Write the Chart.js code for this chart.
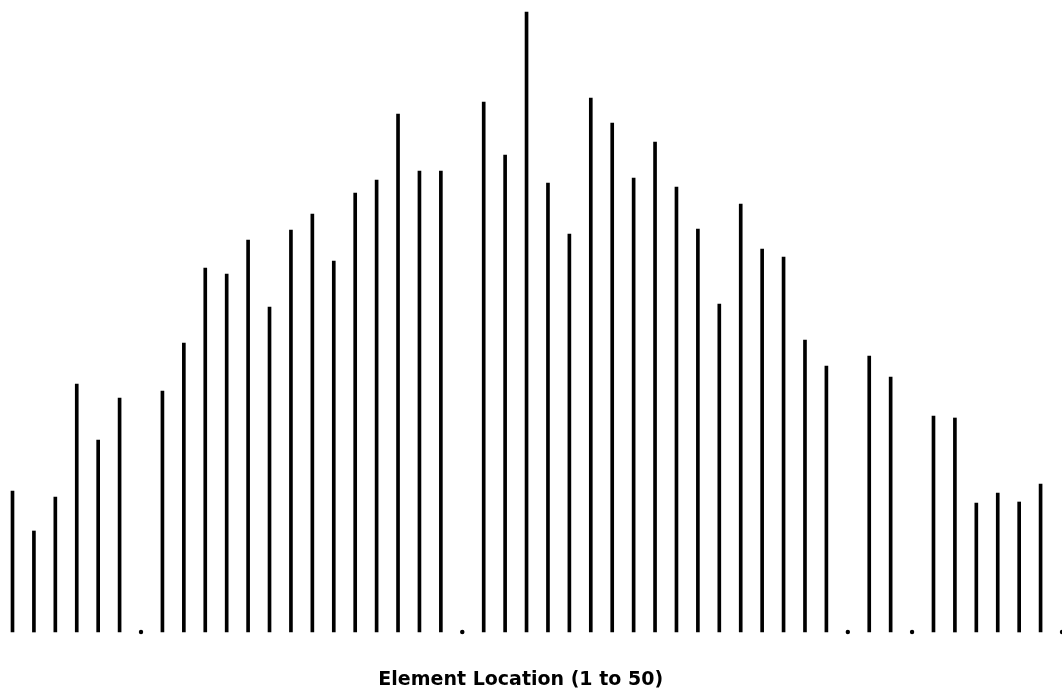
<!DOCTYPE html>
<html>
<head>
<meta charset="utf-8">
<title>Element Location</title>
<script src="https://cdn.jsdelivr.net/npm/chart.js@4.4.0/dist/chart.umd.min.js"></script>
<style>
    html, body { margin: 0; padding: 0; background: #ffffff; overflow: hidden; }
    #chartBox { width: 1062px; height: 694px; }
</style>
</head>
<body>
<div id="chartBox"><canvas id="grafico"></canvas></div>
<script>
// element numbers 1 to 50
const elementos = [];
for (let i = 1; i <= 50; i++) elementos.push(String(i));

// height of each line (0 = shown as a dot)
const valores = [
    141, 101, 135, 248, 192, 234, 0, 241, 289, 364,
    358, 392, 325, 402, 418, 371, 439, 452, 518, 461,
    461, 0, 530, 477, 620, 449, 398, 534, 509, 454,
    490, 445, 403, 328, 428, 383, 375, 292, 266, 0,
    276, 255, 0, 216, 214, 129, 139, 130, 148, 0
];

const tituloX = "Element Location (1 to 50)";

// zeros get a small dot on the baseline
const pontosZero = valores.map(function (v) { return v === 0 ? 0 : null; });

const ctx = document.getElementById("grafico").getContext("2d");
new Chart(ctx, {
    type: "bar",
    data: {
        labels: elementos,
        datasets: [{
            label: "Valores",
            data: valores,
            backgroundColor: "#000000",
            borderWidth: 0,
            barThickness: 3,
            clip: false
        }, {
            type: "line",
            label: "Zeros",
            data: pontosZero,
            showLine: false,
            pointRadius: 2.2,
            pointBackgroundColor: "#000000",
            pointBorderWidth: 0,
            clip: false
        }]
    },
    options: {
        responsive: true,
        maintainAspectRatio: false,
        animation: false,
        layout: { autoPadding: false, padding: { left: 12.5, right: 0, top: 0, bottom: 0 } },
        plugins: {
            legend: { display: false },
            tooltip: { enabled: false }
        },
        scales: {
            x: {
                offset: false,
                grid: { display: false, drawTicks: false, offset: false },
                border: { display: false },
                ticks: { display: false },
                title: {
                    display: true,
                    text: tituloX + "     ",
                    color: "#000000",
                    font: { family: "DejaVu Sans", size: 19, weight: "bold", lineHeight: 1.2 },
                    padding: { top: 36.6, bottom: 2.6 }
                }
            },
            y: {
                display: false,
                min: 0,
                max: 632
            }
        }
    }
});
</script>
</body>
</html>
